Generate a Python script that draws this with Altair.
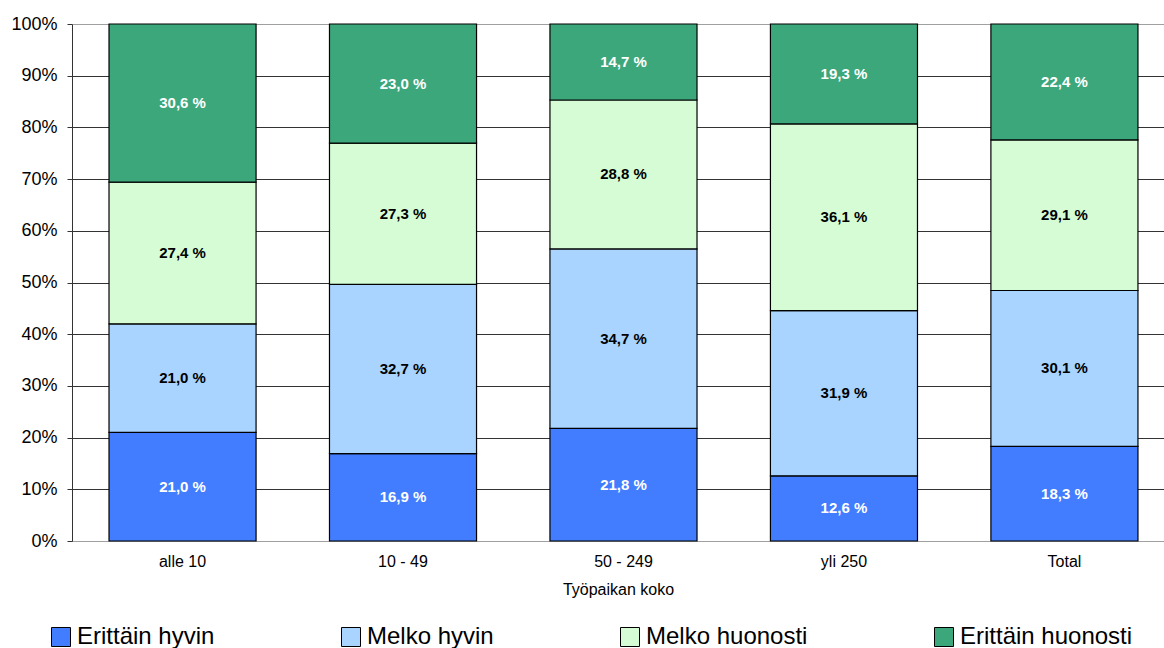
import altair as alt
import pandas as pd

# Workplace size groups and answer categories
sizes = ["alle 10", "10 - 49", "50 - 249", "yli 250", "Total"]
answers = ["Erittäin hyvin", "Melko hyvin", "Melko huonosti", "Erittäin huonosti"]
colors = ["#427DFF", "#A8D4FF", "#D5FCD5", "#3DA77C"]
text_colors = ["white", "black", "black", "white"]

# Shares (%) per size group, in answer order
erittain_hyvin = [21.0, 16.9, 21.8, 12.6, 18.3]
melko_hyvin = [21.0, 32.7, 34.7, 31.9, 30.1]
melko_huonosti = [27.4, 27.3, 28.8, 36.1, 29.1]
erittain_huonosti = [30.6, 23.0, 14.7, 19.3, 22.4]

series = [erittain_hyvin, melko_hyvin, melko_huonosti, erittain_huonosti]
rows = []
for k, (name, vals) in enumerate(zip(answers, series)):
    for s, v in zip(sizes, vals):
        rows.append({"koko": s, "vastaus": name, "order": k, "value": v,
                     "txtcol": text_colors[k]})
df = pd.DataFrame(rows)

FONT = "Liberation Sans"

base = alt.Chart(df).transform_stack(
    stack="value",
    groupby=["koko"],
    as_=["y0", "y1"],
    offset="normalize",
    sort=[alt.SortField("order", order="ascending")],
).transform_calculate(
    mid="(datum.y0 + datum.y1) / 2",
    label="replace(format(datum.value, '.1f'), '.', ',') + ' %'",
)

x_enc = alt.X(
    "koko:N",
    sort=sizes,
    scale=alt.Scale(paddingInner=0.333, paddingOuter=0.143, align=0.587),
    axis=alt.Axis(
        title="Työpaikan koko",
        labelAngle=0,
        ticks=False,
        domainColor="#A0A0A0",
        labelFont=FONT,
        labelFontSize=16,
        labelColor="black",
        labelPadding=12,
        titleFont=FONT,
        titleFontSize=16,
        titleFontWeight="normal",
        titleColor="black",
        titlePadding=12,
    ),
)

bars = base.mark_bar(stroke="black", strokeWidth=1.2).encode(
    x=x_enc,
    y=alt.Y(
        "y0:Q",
        scale=alt.Scale(domain=[0, 1], nice=False),
        axis=alt.Axis(
            title=None,
            format=".0%",
            values=[i / 10 for i in range(11)],
            tickCount=11,
            grid=True,
            gridColor=alt.condition(
                "datum.value == 0 || datum.value == 1",
                alt.value("#A0A0A0"),
                alt.value("#333333"),
            ),
            gridWidth=1,
            domainColor="#333333",
            tickColor="#333333",
            tickSize=5,
            labelFont=FONT,
            labelFontSize=18,
            labelColor="black",
            labelPadding=10,
        ),
    ),
    y2="y1:Q",
    color=alt.Color(
        "vastaus:N",
        scale=alt.Scale(domain=answers, range=colors),
        legend=alt.Legend(
            title=None,
            orient="none",
            direction="horizontal",
            columns=4,
            legendX=-23,
            legendY=601,
            columnPadding=124,
            symbolType="square",
            symbolSize=361,
            symbolStrokeColor="black",
            symbolStrokeWidth=1,
            symbolOpacity=1,
            labelFont=FONT,
            labelFontSize=24,
            labelColor="black",
            labelOffset=4,
            labelLimit=400,
        ),
    ),
)

labels = base.mark_text(font=FONT, fontSize=15, fontWeight="bold").encode(
    x=alt.X("koko:N", sort=sizes),
    y=alt.Y("mid:Q"),
    text="label:N",
    color=alt.Color("txtcol:N", scale=None),
)

chart = (
    alt.layer(bars, labels)
    .properties(
        width=1092,
        height=517,
        autosize=alt.AutoSizeParams(type="none"),
        padding={"left": 72, "top": 24, "right": 0, "bottom": 107},
    )
    .configure_view(stroke=None)
)

chart.save("out.html", embed_options={"renderer": "svg", "actions": False})
